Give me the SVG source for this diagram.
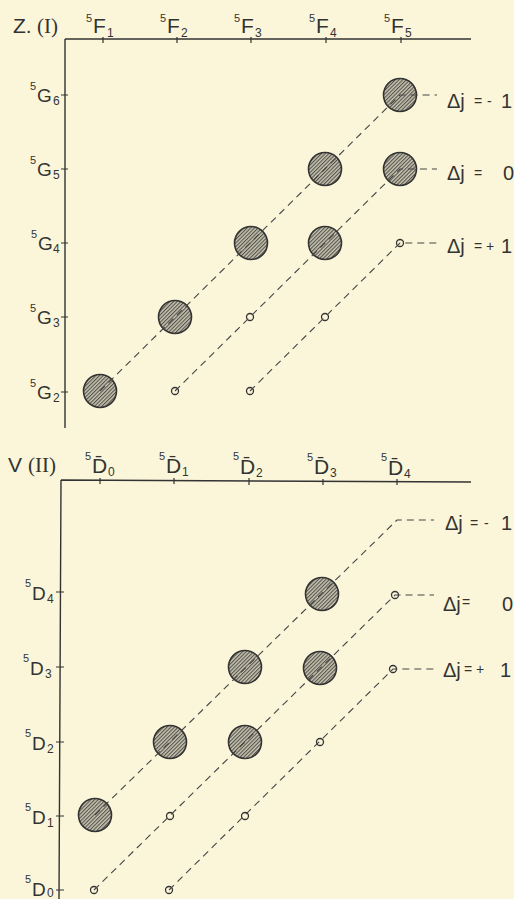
<svg xmlns="http://www.w3.org/2000/svg" width="514" height="899" viewBox="0 0 514 899">
<defs>
<pattern id="hatch" patternUnits="userSpaceOnUse" width="2.6" height="2.6" patternTransform="rotate(-45)">
<rect width="2.6" height="2.6" fill="#c9c4b0"/>
<line x1="0" y1="0.6" x2="2.6" y2="0.6" stroke="#3a3a36" stroke-width="0.9"/>
</pattern>
<style>
.axis{stroke:#333;stroke-width:1.4;fill:none}
.tick{stroke:#333;stroke-width:1.2}
.big{fill:url(#hatch);stroke:#333;stroke-width:1.6}
.small{fill:#fbf6d9;stroke:#333;stroke-width:1.3}
.conn{stroke:#444;stroke-width:1.1;fill:none;stroke-dasharray:7 5}
text{font-family:"Liberation Sans",Arial,sans-serif;fill:#333}
.serif{font-family:"Liberation Serif","Times New Roman",serif}
.main{font-size:21px}
.lab{font-size:19px}
.sup{font-size:11px}
.sub{font-size:12px}
.dj{font-size:20px}
.op{font-size:14px}
</style>
</defs>
<rect width="514" height="899" fill="#fbf6d9"/>

<!-- TOP PANEL -->
<g id="axes-top">
<path class="axis" d="M65,39 L471,39 M65,39 L65,428"/>
<path class="tick" d="M103,37 V43 M177,37 V43 M251,37 V43 M326,37 V43 M401,37 V43 M61,95 H68 M61,169 H68 M61,243 H68 M61,317 H68 M61,392 H68"/>
</g>
<g id="title-top"><text class="main" x="13" y="33">Z.</text><text class="main serif" x="37" y="33">(I)</text></g>
<g id="F1"><text><tspan class="sup" x="86" y="22">5</tspan><tspan class="main" x="93" y="33">F</tspan><tspan class="sub" x="107" y="37">1</tspan></text></g>
<g id="F2"><text><tspan class="sup" x="160" y="22">5</tspan><tspan class="main" x="167" y="33">F</tspan><tspan class="sub" x="181" y="37">2</tspan></text></g>
<g id="F3"><text><tspan class="sup" x="234" y="22">5</tspan><tspan class="main" x="241" y="33">F</tspan><tspan class="sub" x="255" y="37">3</tspan></text></g>
<g id="F4"><text><tspan class="sup" x="309" y="22">5</tspan><tspan class="main" x="316" y="33">F</tspan><tspan class="sub" x="330" y="37">4</tspan></text></g>
<g id="F5"><text><tspan class="sup" x="384" y="22">5</tspan><tspan class="main" x="391" y="33">F</tspan><tspan class="sub" x="405" y="37">5</tspan></text></g>

<g id="G6"><text><tspan class="sup" x="30" y="90">5</tspan><tspan class="lab" x="37" y="102">G</tspan><tspan class="sub" x="53" y="105">6</tspan></text></g>
<g id="G5"><text><tspan class="sup" x="30" y="164">5</tspan><tspan class="lab" x="37" y="176">G</tspan><tspan class="sub" x="53" y="179">5</tspan></text></g>
<g id="G4"><text><tspan class="sup" x="31" y="238">5</tspan><tspan class="lab" x="38" y="250">G</tspan><tspan class="sub" x="53" y="253">4</tspan></text></g>
<g id="G3"><text><tspan class="sup" x="30" y="312">5</tspan><tspan class="lab" x="37" y="324">G</tspan><tspan class="sub" x="53" y="327">3</tspan></text></g>
<g id="G2"><text><tspan class="sup" x="30" y="387">5</tspan><tspan class="lab" x="37" y="399">G</tspan><tspan class="sub" x="53" y="402">2</tspan></text></g>

<g id="t-G2F1"><circle class="big" cx="100" cy="391" r="16.5"/></g>
<g id="t-G3F2"><circle class="big" cx="175" cy="317" r="16.5"/></g>
<g id="t-G4F3"><circle class="big" cx="251" cy="243" r="16.5"/></g>
<g id="t-G5F4"><circle class="big" cx="325" cy="169" r="16.5"/></g>
<g id="t-G6F5"><circle class="big" cx="400" cy="95" r="16.5"/></g>
<g id="t-G4F4"><circle class="big" cx="325" cy="243" r="16.5"/></g>
<g id="t-G5F5"><circle class="big" cx="400" cy="169" r="16.5"/></g>
<g id="t-G2F2"><circle class="small" cx="175" cy="391" r="3.5"/></g>
<g id="t-G3F3"><circle class="small" cx="250" cy="317" r="3.5"/></g>
<g id="t-G2F3"><circle class="small" cx="250" cy="391" r="3.5"/></g>
<g id="t-G3F4"><circle class="small" cx="325" cy="317" r="3.5"/></g>
<g id="t-G4F5"><circle class="small" cx="400" cy="243" r="3.5"/></g>

<g id="lab-top-m1"><text><tspan class="dj" x="447" y="108">Δj</tspan><tspan class="op" x="474" y="106">=</tspan><tspan class="op" x="487" y="106">-</tspan><tspan class="dj" x="501" y="108">1</tspan></text></g>
<g id="lab-top-0"><text><tspan class="dj" x="447" y="180">Δj</tspan><tspan class="op" x="474" y="178">=</tspan><tspan class="dj" x="503" y="180">0</tspan></text></g>
<g id="lab-top-p1"><text><tspan class="dj" x="447" y="253">Δj</tspan><tspan class="op" x="474" y="251">=</tspan><tspan class="op" x="486" y="251">+</tspan><tspan class="dj" x="501" y="253">1</tspan></text></g>

<!-- BOTTOM PANEL -->
<g id="axes-bottom">
<path class="axis" d="M61,480 L471,482 M61,480 L59,899"/>
<path class="tick" d="M100,478 V484 M174,478 V484 M249,478 V485 M323,479 V485 M397,479 V485 M56,592 H64 M56,667 H64 M56,742 H64 M56,816 H64 M56,890 H64"/>
</g>
<g id="title-bottom"><text class="main" x="8" y="472">V</text><text class="main serif" x="28" y="472">(II)</text></g>
<g id="Dbar0"><text><tspan class="sup" x="85" y="460">5</tspan><tspan class="main" x="92" y="473">D̄</tspan><tspan class="sub" x="108" y="476">0</tspan></text></g>
<g id="Dbar1"><text><tspan class="sup" x="159" y="460">5</tspan><tspan class="main" x="166" y="473">D̄</tspan><tspan class="sub" x="182" y="476">1</tspan></text></g>
<g id="Dbar2"><text><tspan class="sup" x="233" y="460">5</tspan><tspan class="main" x="240" y="474">D̄</tspan><tspan class="sub" x="256" y="477">2</tspan></text></g>
<g id="Dbar3"><text><tspan class="sup" x="307" y="461">5</tspan><tspan class="main" x="314" y="474">D̄</tspan><tspan class="sub" x="330" y="477">3</tspan></text></g>
<g id="Dbar4"><text><tspan class="sup" x="381" y="461">5</tspan><tspan class="main" x="388" y="475">D̄</tspan><tspan class="sub" x="404" y="478">4</tspan></text></g>

<g id="D4"><text><tspan class="sup" x="25" y="587">5</tspan><tspan class="lab" x="32" y="600">D</tspan><tspan class="sub" x="47" y="603">4</tspan></text></g>
<g id="D3"><text><tspan class="sup" x="23" y="662">5</tspan><tspan class="lab" x="30" y="675">D</tspan><tspan class="sub" x="45" y="678">3</tspan></text></g>
<g id="D2"><text><tspan class="sup" x="25" y="737">5</tspan><tspan class="lab" x="32" y="750">D</tspan><tspan class="sub" x="47" y="753">2</tspan></text></g>
<g id="D1"><text><tspan class="sup" x="25" y="811">5</tspan><tspan class="lab" x="32" y="824">D</tspan><tspan class="sub" x="47" y="827">1</tspan></text></g>
<g id="D0"><text><tspan class="sup" x="25" y="883">5</tspan><tspan class="lab" x="32" y="896">D</tspan><tspan class="sub" x="47" y="897">0</tspan></text></g>

<g id="b-D1D0"><circle class="big" cx="95" cy="815" r="16.5"/></g>
<g id="b-D2D1"><circle class="big" cx="170" cy="742" r="16.5"/></g>
<g id="b-D3D2"><circle class="big" cx="245" cy="667" r="16.5"/></g>
<g id="b-D4D3"><circle class="big" cx="322" cy="594" r="16.5"/></g>
<g id="b-D2D2"><circle class="big" cx="245" cy="742" r="16.5"/></g>
<g id="b-D3D3"><circle class="big" cx="320" cy="668" r="16.5"/></g>
<g id="b-D0D0"><circle class="small" cx="94" cy="890" r="3.5"/></g>
<g id="b-D0D1"><circle class="small" cx="169" cy="890" r="3.5"/></g>
<g id="b-D1D1"><circle class="small" cx="170" cy="816" r="3.5"/></g>
<g id="b-D1D2"><circle class="small" cx="245" cy="816" r="3.5"/></g>
<g id="b-D2D3"><circle class="small" cx="320" cy="742" r="3.5"/></g>
<g id="b-D4D4"><circle class="small" cx="395" cy="595" r="3.5"/></g>
<g id="b-D3D4"><circle class="small" cx="393" cy="669" r="3.5"/></g>

<g id="lab-bot-m1"><text><tspan class="dj" x="445" y="530">Δj</tspan><tspan class="op" x="470" y="528">=</tspan><tspan class="op" x="484" y="528">-</tspan><tspan class="dj" x="501" y="530">1</tspan></text></g>
<g id="lab-bot-0"><text><tspan class="dj" x="443" y="611">Δj</tspan><tspan class="op" x="462" y="607">=</tspan><tspan class="dj" x="502" y="611">0</tspan></text></g>
<g id="lab-bot-p1"><text><tspan class="dj" x="443" y="677">Δj</tspan><tspan class="op" x="464" y="674">=</tspan><tspan class="op" x="476" y="674">+</tspan><tspan class="dj" x="500" y="677">1</tspan></text></g>

<g id="connectors">
<path class="conn" d="M100,391 L400,95 L437,95"/>
<path class="conn" d="M175,391 L400,169 L437,169"/>
<path class="conn" d="M250,391 L400,243 L437,243"/>
<path class="conn" d="M95,815 L397,520 L434,520"/>
<path class="conn" d="M94,890 L395,595 L434,595"/>
<path class="conn" d="M169,890 L393,669 L434,669"/>
</g>
</svg>
